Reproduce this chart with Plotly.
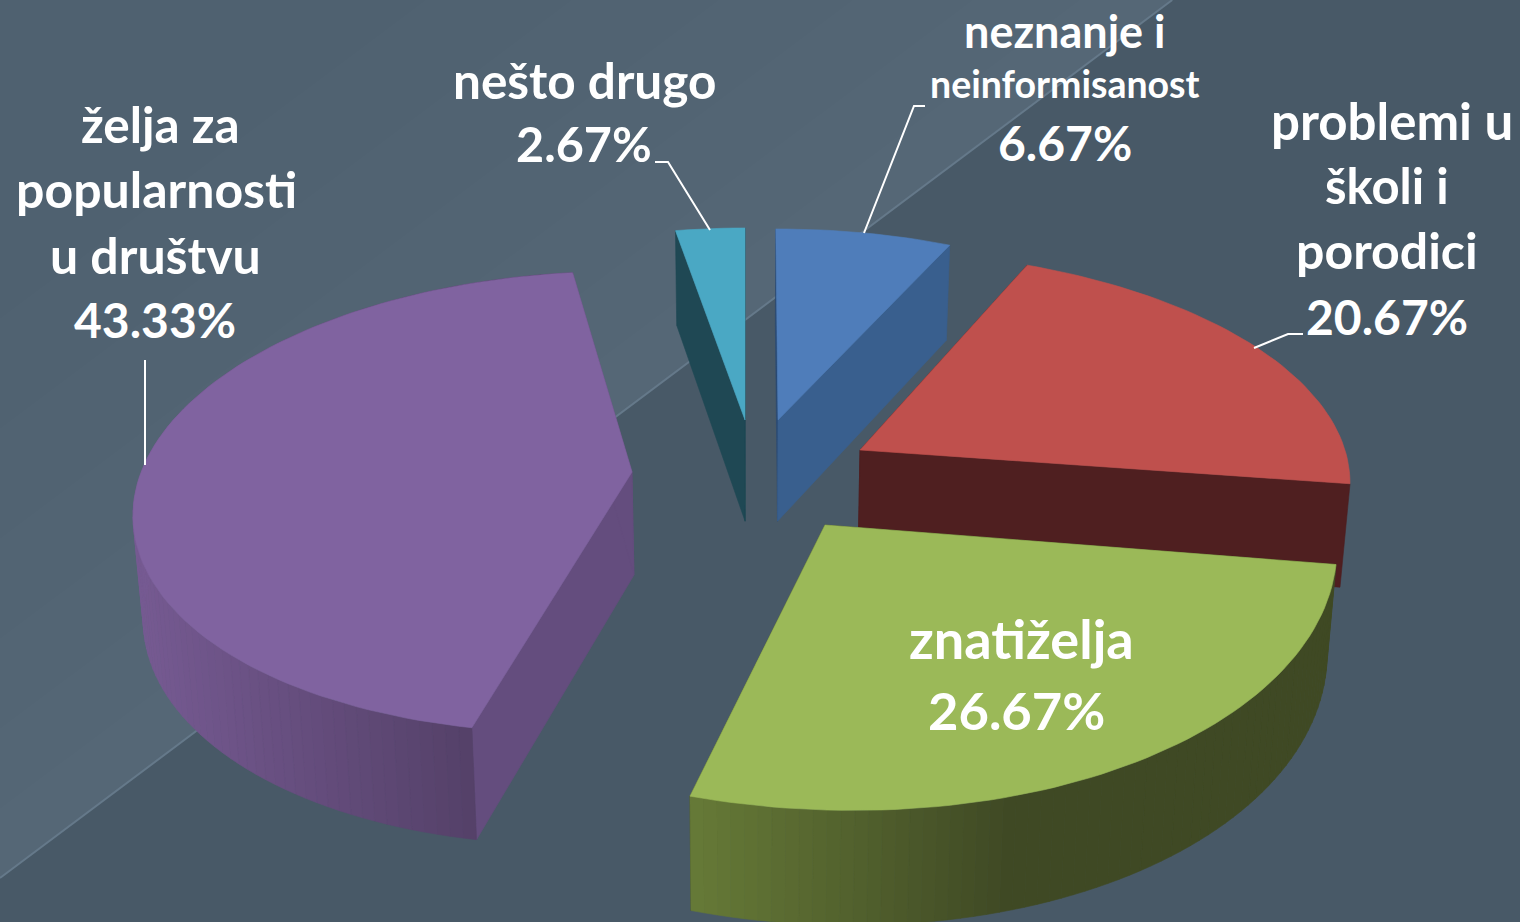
import math
import plotly.graph_objects as go

# --- data -------------------------------------------------------------
categories = ["neznanje i neinformisanost", "problemi u školi i porodici", "znatiželja",
              "želja za popularnosti u društvu", "nešto drugo"]
shares = [6.67, 20.67, 26.67, 43.33, 2.67]
share_labels = [f"{v:.2f}%" for v in shares]

label_lines = [
    [("neznanje i", 1065, 31, 45), ("neinformisanost", 1065, 83, 37.5), (share_labels[0], 1065, 142, 48)],
    [("problemi u", 1392, 120, 51), ("školi i", 1387, 185, 49), ("porodici", 1387, 250, 50), (share_labels[1], 1387, 316, 48)],
    [("znatiželja", 1021, 638, 54), (share_labels[2], 1016, 709, 52.5)],
    [("želja za", 160, 124, 49.5), ("popularnosti", 156, 189, 50), ("u društvu", 155, 255, 50), (share_labels[3], 155, 319, 48)],
    [("nešto drugo", 584, 80, 49.5), (share_labels[4], 584, 143, 48.5)],
]
leaders = [
    [(925, 106), (914, 106), (864, 233)],
    [(1303, 334), (1288, 334), (1254, 348)],
    None,
    [(145, 360), (145, 465)],
    [(655, 162), (668, 162), (710, 230)],
]

# --- slice placement (exploded, perspective) ----------------------------
apex = [(778, 420), (860, 450), (825, 525), (632, 472), (745, 420)]
ellipse_c = [(778, 425), (850, 483), (825, 532), (590, 502), (745, 424)]
ellipse_r = [(432, 196), (500, 233), (512, 278), (457, 230), (425, 196)]
ellipse_shear = [0, 0, 15.2, -13.7, 0]
trim_start = [-0.3, -1.3, -3.4, 3.6, 0]
trim_end = [0, 0, 0.5, 1.5, 0]
top_col = ["#4f7dba", "#bf504d", "#9bb958", "#8063a0", "#4aa8c4"]
start_cut_col = ["#2a4a73", "#4f1f20", "#3f4924", "#644d7e", "#1f4854"]
end_cut_col = ["#395f8e", "#4f1f20", "#3f4924", "#644d7e", "#1f4854"]
side_ramp = [None, None, [(690, "#667a37"), (1010, "#3f4924"), (1400, "#3f4924")],
             [(135, "#765a92"), (474, "#544068")], None]
draw_order = [4, 0, 1, 3, 2]


def hex2rgb(h):
    return tuple(int(h[i:i + 2], 16) for i in (1, 3, 5))


def ramp(stops, x):
    if x <= stops[0][0]:
        return stops[0][1]
    for (x0, c0), (x1, c1) in zip(stops, stops[1:]):
        if x <= x1:
            t = (x - x0) / (x1 - x0)
            a, b = hex2rgb(c0), hex2rgb(c1)
            return "rgb(%d,%d,%d)" % tuple(round(a[i] + (b[i] - a[i]) * t) for i in range(3))
    return stops[-1][1]


def project(i, theta):
    """Projective map of the unit disc: disc centre -> apex, rim -> ellipse."""
    ex, ey = ellipse_c[i]
    rx, ry = ellipse_r[i]
    sh = ellipse_shear[i]
    px = (apex[i][0] - ex) / rx
    py = (apex[i][1] - ey - sh * px) / ry
    r2 = px * px + py * py
    t = math.radians(theta)
    qx, qy = math.sin(t), -math.cos(t)
    d = px * qx + py * qy
    k = d / r2 if r2 else 0
    parx, pary = k * px, k * py
    s = math.sqrt(1 - r2)
    tx = (px + parx + s * (qx - parx)) / (1 + d)
    ty = (py + pary + s * (qy - pary)) / (1 + d)
    return ex + rx * tx, ey + ry * ty + sh * tx


def drop(pt):
    x, y = pt
    return x + (750 - x) * 0.0167, y + 103 + 0.035 * (y - 472)


def poly(fig, pts, color):
    xs = [p[0] for p in pts] + [pts[0][0]]
    ys = [p[1] for p in pts] + [pts[0][1]]
    fig.add_trace(go.Scatter(x=xs, y=ys, mode="lines", fill="toself", fillcolor=color,
                             line=dict(color=color, width=0.6), hoverinfo="skip", showlegend=False))


fig = go.Figure()

# background
W, H = 1520, 922
bg_shapes = [
    dict(type="rect", x0=0, y0=0, x1=W, y1=H, fillcolor="#485967", line_width=0, layer="below"),
]


def band(off):
    """Region of the upper-left triangle within `off` px (vertically) of the diagonal."""
    x_top = (878 - 0) / 0.749
    if 878 - off <= 0:
        return f"M0,0 L{x_top:.0f},0 L0,878 Z"
    return f"M0,{878 - off} L{(878 - off) / 0.749:.0f},0 L{x_top:.0f},0 L0,878 Z"


bg_shapes.append(dict(type="path", path=band(900), fillcolor="#4f6170", line_width=0, layer="below"))
for off in [560, 450, 340, 240, 150, 70]:
    bg_shapes.append(dict(type="path", path=band(off), fillcolor="rgba(255,255,255,0.006)",
                          line_width=0, layer="below"))
bg_shapes.append(dict(type="line", x0=0, y0=878, x1=878 / 0.749, y1=0,
                      line=dict(color="#65798a", width=2), layer="below"))

# slices from values
angles = [0.0]
for v in shares:
    angles.append(angles[-1] + v / sum(shares) * 360)

for i in draw_order:
    a0, a1 = angles[i] + trim_start[i], angles[i + 1] + trim_end[i]
    n = max(6, int((a1 - a0) / 1.5))
    arc = [project(i, a0 + (a1 - a0) * k / n) for k in range(n + 1)]
    low = [drop(p) for p in arc]
    ap, ap_low = tuple(apex[i]), drop(apex[i])
    poly(fig, [ap, arc[0], low[0], ap_low], start_cut_col[i])
    poly(fig, [ap, arc[-1], low[-1], ap_low], end_cut_col[i])
    if side_ramp[i]:
        for k in range(n):
            mx = (arc[k][0] + arc[k + 1][0]) / 2
            poly(fig, [arc[k], arc[k + 1], low[k + 1], low[k]], ramp(side_ramp[i], mx))
    poly(fig, [ap] + arc, top_col[i])

# leaders
for pts in leaders:
    if pts:
        fig.add_trace(go.Scatter(x=[p[0] for p in pts], y=[p[1] for p in pts], mode="lines",
                                 line=dict(color="white", width=2), hoverinfo="skip", showlegend=False))

annotations = []
for lines in label_lines:
    for text, x, y, size in lines:
        annotations.append(dict(x=x, y=y, text=text, showarrow=False, xanchor="center", yanchor="middle",
                                font=dict(family="Lato", size=size, color="white", weight=700)))

fig.update_layout(
    width=W, height=H, margin=dict(l=0, r=0, t=0, b=0),
    paper_bgcolor="#485967", plot_bgcolor="rgba(0,0,0,0)",
    xaxis=dict(range=[0, W], visible=False, fixedrange=True),
    yaxis=dict(range=[H, 0], visible=False, fixedrange=True),
    shapes=bg_shapes, annotations=annotations, showlegend=False,
)
fig.write_html("out.html", config={"displayModeBar": False},
               post_script="document.body.style.margin='0';document.body.style.overflow='hidden';")
